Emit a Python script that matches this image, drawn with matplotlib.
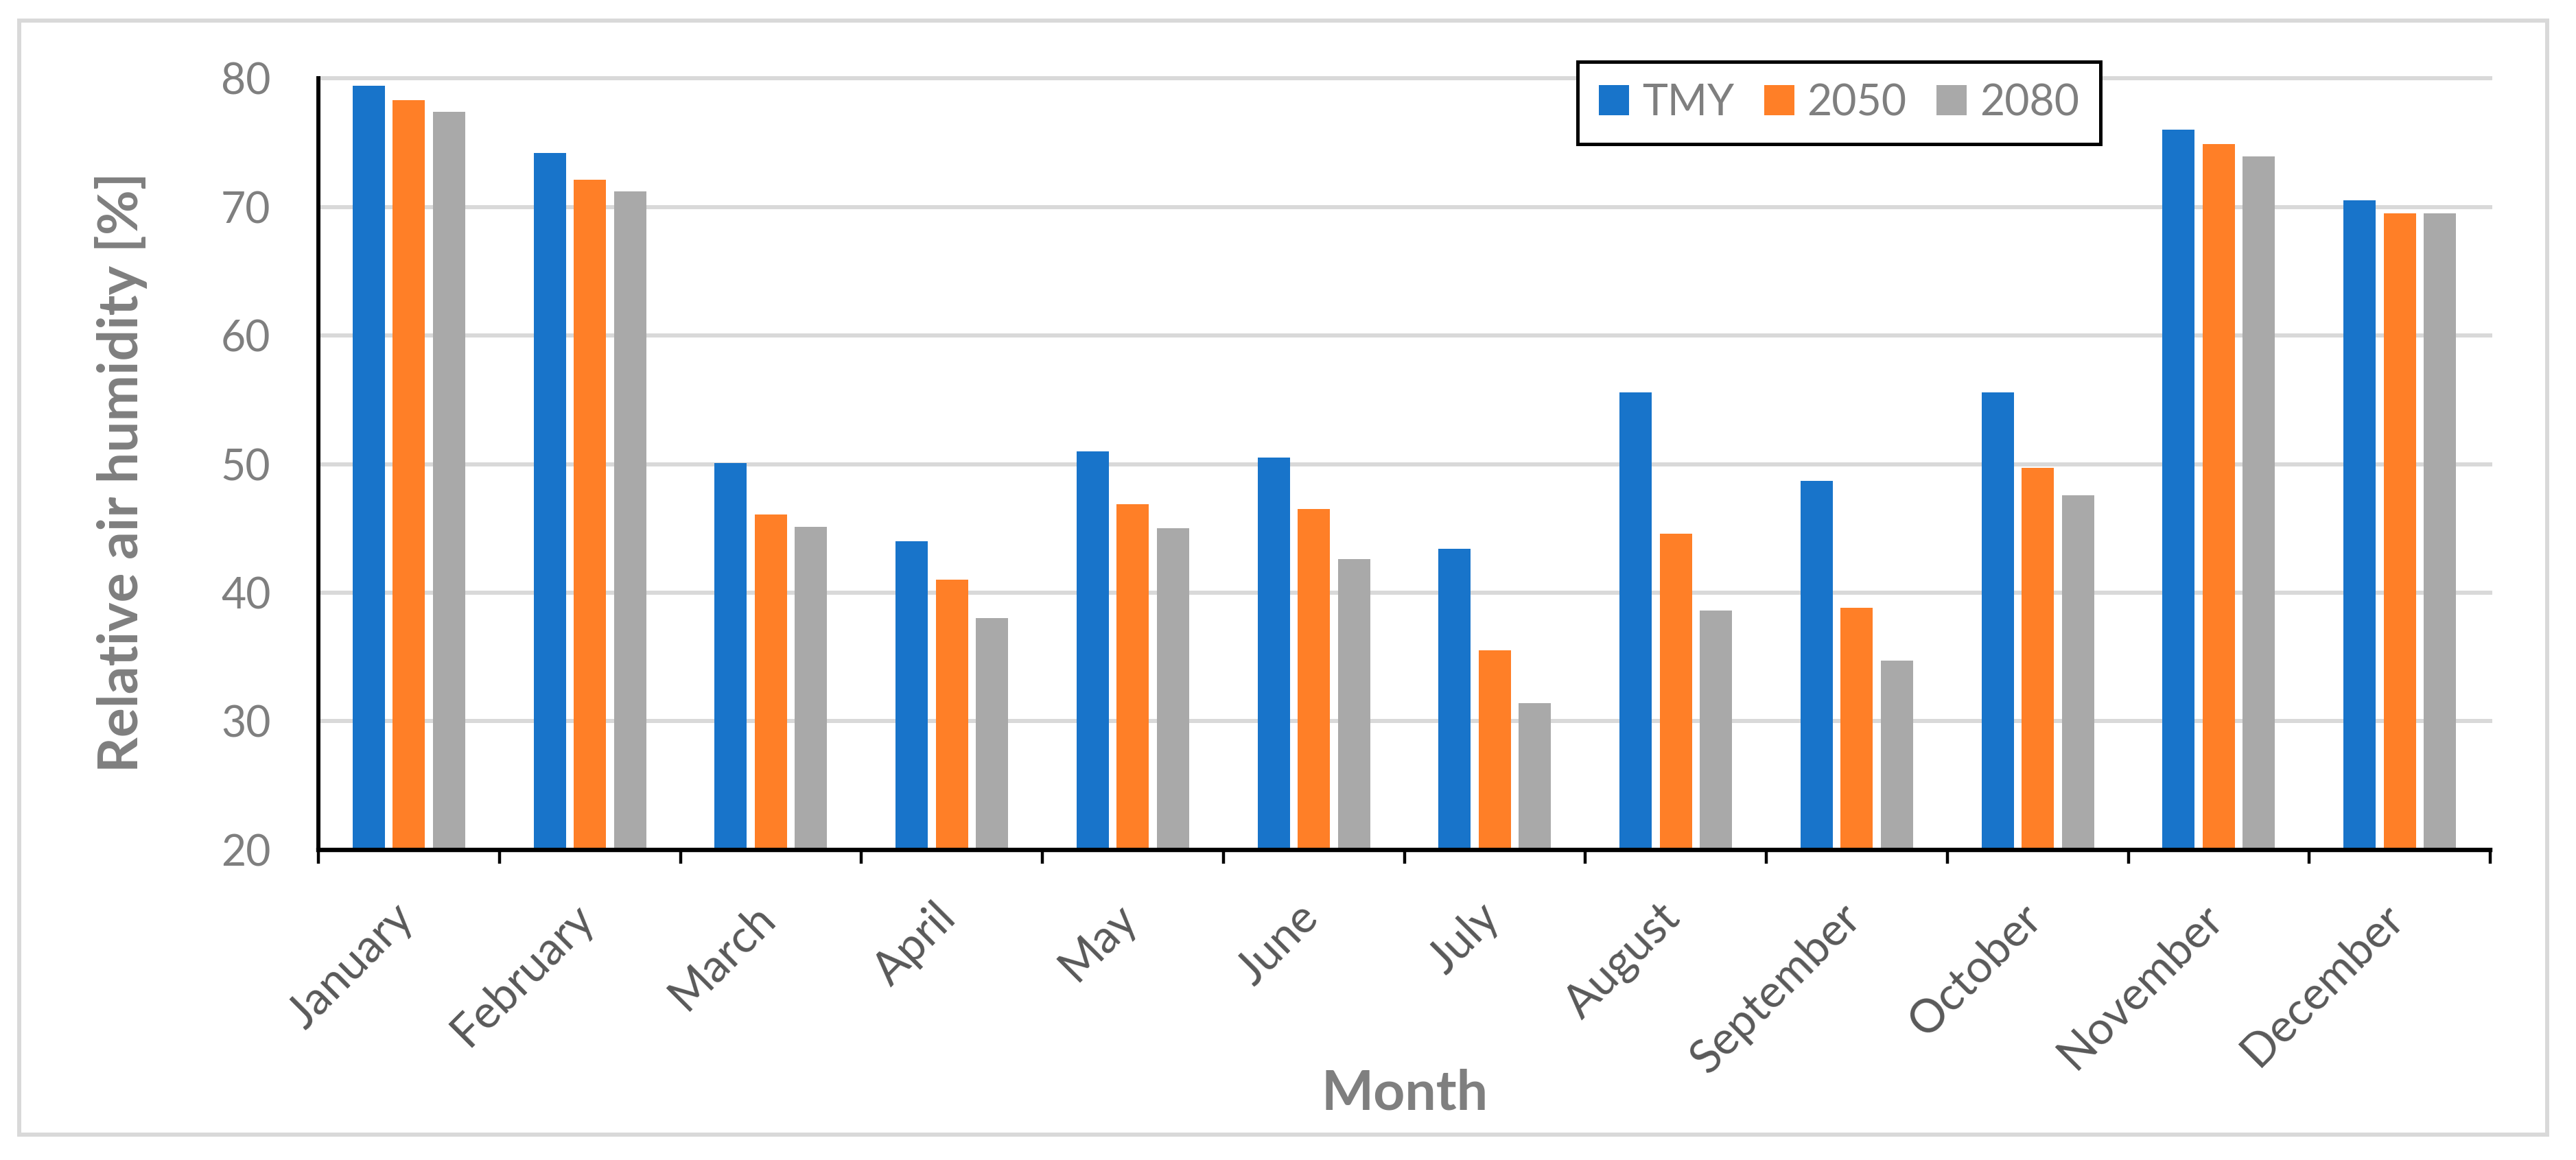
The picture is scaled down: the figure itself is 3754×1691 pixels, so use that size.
import matplotlib
matplotlib.use("Agg")
import matplotlib.pyplot as plt
from matplotlib.patches import Rectangle
from matplotlib.ticker import FixedLocator, NullFormatter
import matplotlib.transforms as mtransforms
import numpy as np

months = ["January", "February", "March", "April", "May", "June", "July",
          "August", "September", "October", "November", "December"]
series_names = ["TMY", "2050", "2080"]
tmy = [79.4, 74.2, 50.1, 44.0, 51.0, 50.5, 43.4, 55.6, 48.7, 55.6, 76.0, 70.5]
y2050 = [78.3, 72.1, 46.1, 41.0, 46.9, 46.5, 35.5, 44.6, 38.8, 49.7, 74.9, 69.5]
y2080 = [77.4, 71.2, 45.1, 38.0, 45.0, 42.6, 31.4, 38.6, 34.7, 47.6, 73.9, 69.5]
yticks = [20, 30, 40, 50, 60, 70, 80]

colors = ["#1874CA", "#FF7F27", "#A9A9A9"]
label_gray = "#7F7F7F"
month_gray = "#595959"

plt.rcParams['font.family'] = ['Lato', 'DejaVu Sans']

fig = plt.figure(figsize=(37.55, 16.91), dpi=100)
ax = fig.add_axes([0.12357, 0.26730, 0.84288, 0.66528])

x = np.arange(len(months)) + 0.5
pitch = 0.2218
width = 0.178
for i, (vals, name) in enumerate(zip([tmy, y2050, y2080], series_names)):
    ax.bar(x + (i - 1) * pitch, vals, width=width, color=colors[i],
           label=name, zorder=3)

ax.set_xlim(0, 12)
ax.set_ylim(20, 80)
ax.set_yticks(yticks)
ax.set_yticklabels([str(v) for v in yticks])
ax.tick_params(axis='y', length=0, pad=50, labelsize=45, labelcolor=label_gray)

ax.xaxis.set_major_locator(FixedLocator(np.arange(0, 13)))
ax.xaxis.set_major_formatter(NullFormatter())
ax.xaxis.set_minor_locator(FixedLocator(x))
ax.set_xticklabels(months, minor=True)
ax.tick_params(axis='x', which='major', length=14.4, width=3.2, direction='out', color='black')
ax.tick_params(axis='x', which='minor', length=0, pad=64, labelsize=48, labelcolor=month_gray)
offset = mtransforms.ScaledTranslation(-4 / 100, 0, fig.dpi_scale_trans)
for lab in ax.get_xticklabels(minor=True):
    lab.set_rotation(45)
    lab.set_rotation_mode('anchor')
    lab.set_ha('right')
    lab.set_va('center')
    lab.set_transform(lab.get_transform() + offset)

ax.yaxis.grid(True, color="#D9D9D9", linewidth=4.3, zorder=0)
ax.set_axisbelow(True)
for gl in ax.get_ygridlines():
    gl.set_clip_on(False)

for s in ['top', 'right']:
    ax.spines[s].set_visible(False)
ax.spines['left'].set_linewidth(4.3)
ax.spines['left'].set_color('black')
ax.spines['bottom'].set_linewidth(4.6)
ax.spines['bottom'].set_color('black')
ax.spines['left'].set_zorder(5)
ax.spines['bottom'].set_zorder(5)

ax.set_ylabel("Relative air humidity [%]", fontsize=58, fontweight='bold', color=label_gray)
ax.yaxis.set_label_coords(-0.0907, 0.489)
ax.yaxis.label.set_va('center')

fig.text(0.5451, 0.0432, "Month", ha='center', va='baseline', fontsize=58,
         fontweight='bold', color=label_gray)

leg = ax.legend(loc='upper left', bbox_to_anchor=(0.6123, 0.9468),
                bbox_transform=fig.transFigure, ncol=3, fontsize=45,
                handlelength=0.7, handleheight=0.7, handletextpad=0.3,
                columnspacing=0.7, borderpad=0.5, borderaxespad=0,
                fancybox=False, framealpha=1, edgecolor='black')
leg.get_frame().set_linewidth(3.6)
leg.set_zorder(10)
for t in leg.get_texts():
    t.set_color(label_gray)

border = Rectangle((0.00746, 0.02188), 0.98855 - 0.00746, 0.98226 - 0.02188,
                   transform=fig.transFigure, fill=False, edgecolor="#D9D9D9",
                   linewidth=4.3)
fig.add_artist(border)

fig.savefig("out.png", dpi=100, facecolor='white')
